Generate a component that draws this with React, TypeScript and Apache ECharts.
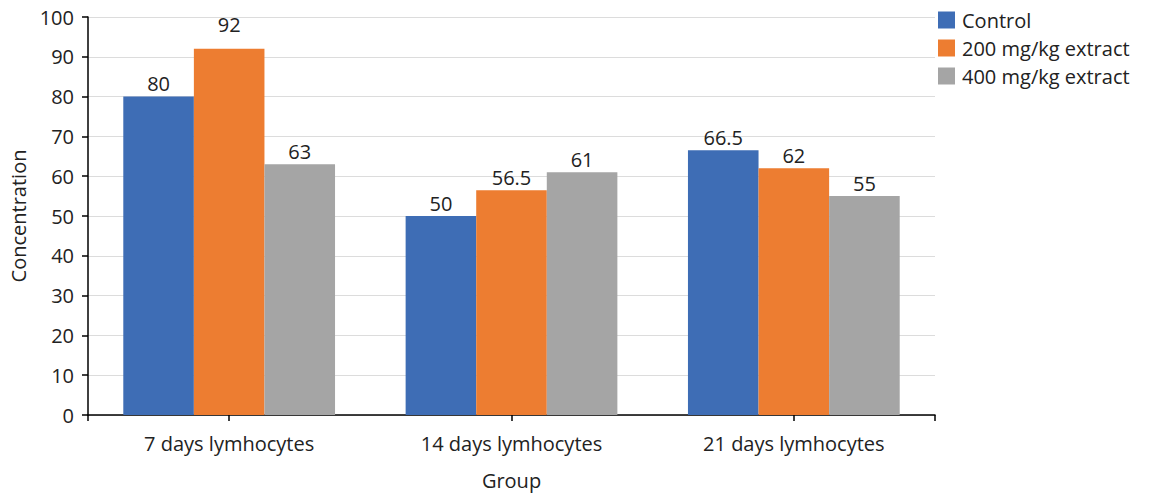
import React, { useEffect, useRef } from "react";
import * as echarts from "echarts";

// Lymphocyte concentration by treatment group and day
const categories = ["7 days lymhocytes", "14 days lymhocytes", "21 days lymhocytes"];
const seriesNames = ["Control", "200 mg/kg extract", "400 mg/kg extract"];
const controlValues = [80, 50, 66.5];
const extract200Values = [92, 56.5, 62];
const extract400Values = [63, 61, 55];
const seriesColors = ["#3E6DB5", "#ED7D31", "#A5A5A5"];

const FONT = "'Open Sans', 'Noto Sans', sans-serif";
const TEXT = "#222222";
const FS = 20;

export default function App() {
  const ref = useRef<HTMLDivElement>(null);

  useEffect(() => {
    if (!ref.current) return;
    const chart = echarts.init(ref.current, undefined, { renderer: "svg" });
    const values = [controlValues, extract200Values, extract400Values];

    chart.setOption({
      animation: false,
      textStyle: { fontFamily: FONT, color: TEXT },
      grid: { left: 87, right: 216, top: 17, bottom: 79, containLabel: false },
      legend: {
        orient: "vertical",
        left: 933,
        top: 5,
        itemWidth: 17,
        itemHeight: 17,
        itemGap: 8,
        icon: "rect",
        textStyle: { fontFamily: FONT, fontSize: FS, color: TEXT, padding: [0, 0, 0, 2] },
        data: seriesNames,
      },
      xAxis: [
        {
          type: "category",
          data: categories,
          name: "Group",
          nameLocation: "middle",
          nameGap: 55,
          nameTextStyle: { fontFamily: FONT, fontSize: FS, color: TEXT },
          axisLine: { lineStyle: { color: "#000", width: 1.5 } },
          axisTick: { show: true, alignWithLabel: true, length: 6, lineStyle: { color: "#000", width: 1.5 } },
          axisLabel: { fontFamily: FONT, fontSize: FS, color: TEXT, margin: 18 },
        },
        {
          // end ticks at both edges of the category axis
          type: "value",
          position: "bottom",
          min: 0,
          max: 3,
          interval: 3,
          axisLine: { show: false },
          axisTick: { show: true, length: 6, lineStyle: { color: "#000", width: 1.5 } },
          axisLabel: { show: false },
          splitLine: { show: false },
        },
      ],
      yAxis: {
        type: "value",
        min: 0,
        max: 100,
        interval: 10,
        name: "Concentration",
        nameLocation: "middle",
        nameGap: 60,
        nameTextStyle: { fontFamily: FONT, fontSize: FS, color: TEXT },
        axisLine: { show: true, lineStyle: { color: "#000", width: 1.5 } },
        axisTick: { show: true, length: 6, lineStyle: { color: "#000", width: 1.5 } },
        axisLabel: { fontFamily: FONT, fontSize: FS, color: TEXT, margin: 14 },
        splitLine: { lineStyle: { color: "#DCDCDC", width: 1 } },
      },
      series: seriesNames.map((name, i) => ({
        name,
        type: "bar",
        xAxisIndex: 0,
        // labels near the top of the plot sit a little higher
        data: values[i].map((v) =>
          v > 90 ? { value: v, label: { distance: 14 } } : v
        ),
        barGap: "0%",
        barCategoryGap: "25%",
        itemStyle: { color: seriesColors[i] },
        label: {
          show: true,
          position: "top",
          distance: 3,
          fontFamily: FONT,
          fontSize: FS,
          color: TEXT,
        },
      })),
    });

    return () => chart.dispose();
  }, []);

  return (
    <div
      ref={ref}
      style={{ position: "absolute", left: 0, top: 0, width: 1151, height: 495 }}
    />
  );
}
